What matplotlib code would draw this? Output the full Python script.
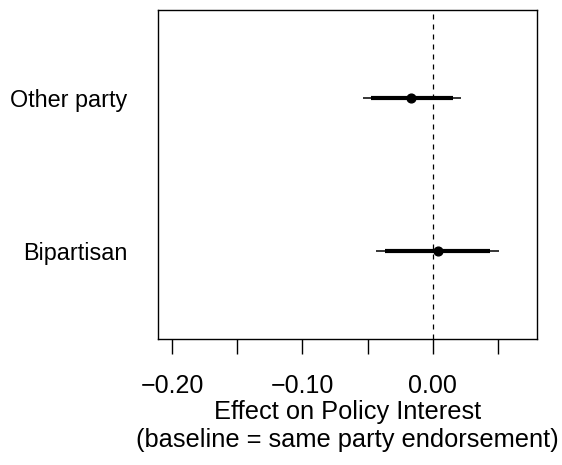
import matplotlib
matplotlib.use("Agg")
import matplotlib.pyplot as plt

categories = ["Bipartisan", "Other party"]
estimates = [0.0038, -0.0162]
ci95_low = [-0.0436, -0.0538]
ci95_high = [0.0512, 0.0215]
ci90_low = [-0.0367, -0.0477]
ci90_high = [0.0441, 0.0158]
major_ticks = [-0.20, -0.10, 0.00]
major_labels = ["\u22120.20", "\u22120.10", "0.00"]
minor_ticks = [-0.15, -0.05, 0.05]

plt.rcParams['font.family'] = ['Liberation Sans', 'DejaVu Sans']
W, H = 562, 465
fig = plt.figure(figsize=(W / 100, H / 100), dpi=100)
left, right, top, bottom = 158.3, 537.3, 10, 339
ax = fig.add_axes([left / W, 1 - bottom / H, (right - left) / W, (bottom - top) / H])

ypos = [1, 2]
ax.axvline(0, color='black', lw=0.9, ls=(0, (4, 4)), zorder=1)
for y, e, l95, h95, l90, h90 in zip(ypos, estimates, ci95_low, ci95_high, ci90_low, ci90_high):
    ax.plot([l95, h95], [y, y], color='black', lw=1.1, solid_capstyle='butt', zorder=2)
    ax.plot([l90, h90], [y, y], color='black', lw=3.0, solid_capstyle='butt', zorder=3)
    ax.plot([e], [y], 'o', color='black', ms=6.3, zorder=4)

ax.set_xlim(-0.2108, 0.0805)
ax.set_ylim(0.423, 2.573)
ax.set_yticks(ypos)
ax.set_yticklabels(categories, fontsize=16.8)
ax.tick_params(axis='y', length=0, pad=22.5)

ax.set_xticks(major_ticks + minor_ticks)
ax.set_xticklabels(major_labels + [""] * len(minor_ticks), fontsize=18)
ax.tick_params(axis='x', length=11, width=1.0, pad=14)

ax.set_xlabel("Effect on Policy Interest\n(baseline = same party endorsement)", fontsize=18.3, linespacing=1.2, labelpad=2)

for s in ax.spines.values():
    s.set_linewidth(1.0)

fig.savefig("out.png", dpi=100)
